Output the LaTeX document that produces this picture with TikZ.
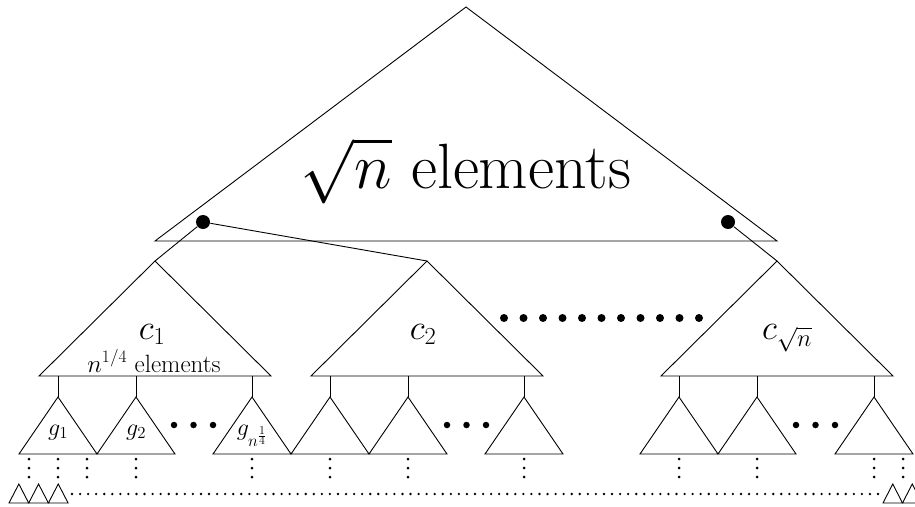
\RequirePackage{fix-cm}
\documentclass[tikz,border=0pt]{standalone}
\usepackage{exscale}
\begin{document}
\begin{tikzpicture}[x=1pt,y=-1pt, line width=0.9pt, line join=miter,
  dot/.style={circle, fill=black, draw=none, inner sep=0pt, minimum size=#1},
  dotline/.style={line width=2.6pt, line cap=round, dash pattern=on 0pt off 8.06pt},
  bigtext/.style={font=\fontsize{64}{72}\selectfont},
  clabel/.style={font=\fontsize{35}{40}\selectfont, anchor=base},
  glabel/.style={font=\fontsize{24}{28}\selectfont, anchor=base},
  smalltext/.style={font=\fontsize{25}{29}\selectfont, anchor=base}]
\useasboundingbox (0,0) rectangle (915,506);
\clip (0,0) rectangle (915,506);

% top triangle
\coordinate (T) at (466,7);
\coordinate (TL) at (155,241);
\coordinate (TR) at (777,241);
\draw (TL) -- (T) -- (TR) -- cycle;
\node[bigtext, anchor=base] (toplabel) at (466,188) {$\sqrt{n}$ elements};

% second level triangles
\coordinate (c1) at (155,261);
\coordinate (c2) at (427,261);
\coordinate (c3) at (777,261);
\foreach \n in {c1,c2,c3} {
  \draw (\n) -- ++(-116,115) -- ++(232,0) -- cycle;
}

% pointers
\node[dot=14pt] (p1) at (203,222) {};
\node[dot=14pt] (p2) at (728,222) {};
\draw (p1) -- (c1);
\draw (p1) -- (c2);
\draw (p2) -- (c3);

% labels of second level
\node[clabel] (lc1) at (152,339) {$c_1$};
\node[smalltext] (le1) at (154,372) {$n^{1/4}$ elements};
\node[clabel] (lc2) at (423,339) {$c_2$};
\node[clabel] (lc3) at (787,339) {$c_{\sqrt{n}}$};

% big dots row
\foreach \i in {0,...,10} {
  \node[dot=8pt] (row\i) at ({504+19.5*\i},318) {};
}

% third level
\foreach \n/\x in {g1/58, g2/136, g3/252, h1/330, h2/408, h3/524, k1/679, k2/757, k3/874} {
  \coordinate (\n) at (\x,397);
  \coordinate (\n-up) at (\x,376);
  \draw (\n-up) -- (\n);
  \draw (\n) -- ++(-39,57) -- ++(78,0) -- cycle;
}
\node[glabel] (lg1) at (58,435) {$g_1$};
\node[glabel] (lg2) at (136,435) {$g_2$};
\node[glabel] (lg3) at (252,435) {$g_{n^{\frac{1}{4}}}$};

% cdots groups
\foreach \g/\x in {a/174, b/447, c/796} {
  \foreach \i in {0,1,2} {
    \node[dot=6.5pt] (cd\g\i) at ({\x+19.5*\i},425) {};
  }
}

% vertical dots
\foreach \x [count=\k] in {29,58,87,136,252,330,408,524,679,757,874,903} {
  \foreach \j/\y in {0/459,1/468,2/477} {
    \node[dot=3pt] (vd\k\j) at (\x,\y) {};
  }
}

% bottom small triangles
\foreach \x in {9,28.7,48.4} {
  \draw (\x,503) -- ++(9.85,-19) -- ++(9.85,19) -- cycle;
}
\foreach \x in {883,902.5} {
  \draw (\x,503) -- ++(9.75,-19) -- ++(9.75,19) -- cycle;
}
\coordinate (dl) at (72,494);
\coordinate (dr) at (878,494);
\draw[dotline] (dl) -- (dr);
\end{tikzpicture}
\end{document}
